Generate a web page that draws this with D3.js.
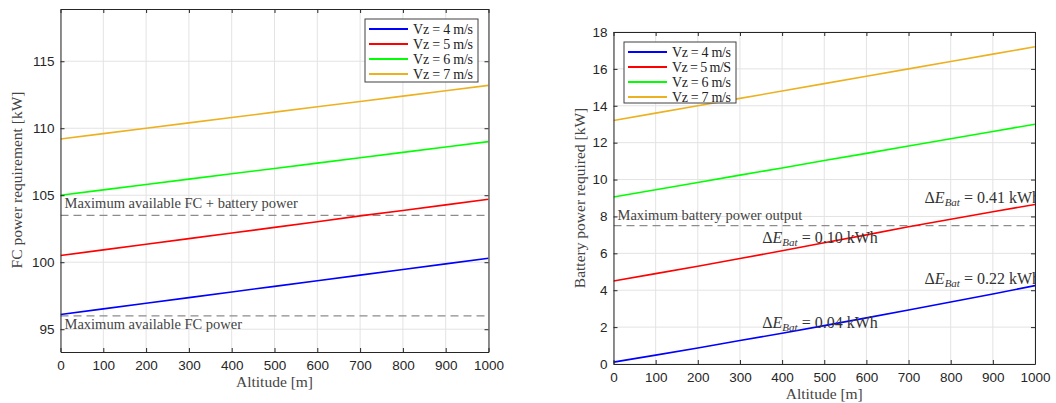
<!DOCTYPE html>
<html><head><meta charset="utf-8">
<script src="https://cdn.jsdelivr.net/npm/d3@7"></script>
<style>
body{margin:0;background:#fff;}
svg{display:block;}
.tick text{font-family:"Liberation Sans",Arial,sans-serif;}
</style></head>
<body>
<svg id="chart" width="1056" height="403"></svg>
<script>
const altitude = [0,100,200,300,400,500,600,700,800,900,1000];
const xTicks = [0,100,200,300,400,500,600,700,800,900,1000];

// Left panel: FC power requirement [kW]
const fcVz4 = [96.1, 96.52, 96.94, 97.36, 97.78, 98.2, 98.62, 99.04, 99.46, 99.88, 100.3];
const fcVz5 = [100.5, 100.92, 101.34, 101.76, 102.18, 102.6, 103.02, 103.46, 103.86, 104.28, 104.7];
const fcVz6 = [105.0, 105.4, 105.8, 106.2, 106.6, 107.0, 107.4, 107.8, 108.2, 108.6, 109.0];
const fcVz7 = [109.2, 109.6, 110.0, 110.4, 110.8, 111.2, 111.6, 112.0, 112.4, 112.8, 113.2];
const fcLegend = ["Vz = 4 m/s","Vz = 5 m/s","Vz = 6 m/s","Vz = 7 m/s"];
const fcYTicks = [95,100,105,110,115];
const fcYDomain = [93.3, 118.9];
const fcLimits = [103.5, 96.0];
const fcLimitLabels = ["Maximum available FC + battery power","Maximum available FC power"];

// Right panel: Battery power required [kW]
const batVz4 = [0.1, 0.48, 0.87, 1.27, 1.67, 2.08, 2.5, 2.93, 3.36, 3.8, 4.25];
const batVz5 = [4.5, 4.9, 5.3, 5.72, 6.14, 6.57, 7.0, 7.44, 7.85, 8.25, 8.65];
const batVz6 = [9.05, 9.45, 9.84, 10.24, 10.63, 11.03, 11.42, 11.82, 12.21, 12.61, 13.0];
const batVz7 = [13.2, 13.6, 14.0, 14.4, 14.8, 15.2, 15.6, 16.0, 16.4, 16.8, 17.2];
const batLegend = ["Vz = 4 m/s","Vz = 5 m/S","Vz = 6 m/s","Vz = 7 m/s"];
const batYTicks = [0,2,4,6,8,10,12,14,16,18];
const batYDomain = [0, 18];
const batLimits = [7.5];
const batLimitLabels = ["Maximum battery power output"];
// energy annotations
const energyNotes = [
  {alt: 353, val: 6.55, e: "0.10"},
  {alt: 738, val: 8.75, e: "0.41"},
  {alt: 353, val: 1.95, e: "0.04"},
  {alt: 738, val: 4.35, e: "0.22"}
];

const colors = ["#0000ff","#ff0000","#00ff00","#edb120"];
const axisColor = "#262626";
const gridColor = "#e3e3e3";
const serif = "'Liberation Serif','Times New Roman',serif";
const svg = d3.select("#chart");

function panel(cfg){
  const x = d3.scaleLinear().domain([0,1000]).range([cfg.left, cfg.right]);
  const y = d3.scaleLinear().domain(cfg.yDomain).range([cfg.bottom, cfg.top]);
  const g = svg.append("g");
  const clipId = "clip" + cfg.id;
  svg.append("clipPath").attr("id", clipId).append("rect")
    .attr("x", cfg.left).attr("y", cfg.top).attr("width", cfg.right-cfg.left).attr("height", cfg.bottom-cfg.top);

  // grid
  g.selectAll(".gx").data(xTicks).join("line")
    .attr("x1", d=>x(d)).attr("x2", d=>x(d)).attr("y1", cfg.top).attr("y2", cfg.bottom)
    .attr("stroke", gridColor).attr("stroke-width", 1);
  g.selectAll(".gy").data(cfg.yTicks).join("line")
    .attr("x1", cfg.left).attr("x2", cfg.right).attr("y1", d=>y(d)).attr("y2", d=>y(d))
    .attr("stroke", gridColor).attr("stroke-width", 1);

  // limit lines
  const pl = g.append("g").attr("clip-path", `url(#${clipId})`);
  pl.selectAll(".lim").data(cfg.limits).join("line")
    .attr("x1", cfg.left).attr("x2", cfg.right).attr("y1", d=>y(d)).attr("y2", d=>y(d))
    .attr("stroke", "#8c8c8c").attr("stroke-width", 1.2).attr("stroke-dasharray", "8,5");

  // series
  const line = d3.line().x((d,i)=>x(altitude[i])).y(d=>y(d));
  pl.selectAll(".series").data(cfg.series).join("path")
    .attr("d", d=>line(d)).attr("fill","none")
    .attr("stroke", (d,i)=>colors[i]).attr("stroke-width", 1.6);

  // limit labels
  cfg.limitLabels.forEach((t,i)=>{
    g.append("text").attr("x", cfg.left+4).attr("y", y(cfg.limits[i]) + cfg.labelDy[i])
      .attr("font-family", serif).attr("font-size", 14.5).attr("fill","#444").text(t);
  });

  // axes
  const fmt = d3.format("d");
  const xb = d3.axisBottom(x).tickValues(xTicks).tickFormat(fmt).tickSizeInner(-4).tickSizeOuter(0).tickPadding(8);
  const xt = d3.axisTop(x).tickValues(xTicks).tickSizeInner(-4).tickSizeOuter(0).tickFormat("");
  const yl = d3.axisLeft(y).tickValues(cfg.yTicks).tickFormat(fmt).tickSizeInner(-4).tickSizeOuter(0).tickPadding(6);
  const yr = d3.axisRight(y).tickValues(cfg.yTicks).tickSizeInner(-4).tickSizeOuter(0).tickFormat("");
  const styleAx = sel => {
    sel.selectAll("path").attr("stroke", axisColor).attr("stroke-width", 1);
    sel.selectAll("line").attr("stroke", axisColor);
    sel.selectAll("text").attr("fill", axisColor).attr("font-size", 13.5);
  };
  g.append("g").attr("transform", `translate(0,${cfg.bottom})`).call(xb).call(styleAx);
  g.append("g").attr("transform", `translate(0,${cfg.top})`).call(xt).call(styleAx);
  g.append("g").attr("transform", `translate(${cfg.left},0)`).call(yl).call(styleAx);
  g.append("g").attr("transform", `translate(${cfg.right},0)`).call(yr).call(styleAx);

  // axis titles
  g.append("text").attr("x", (cfg.left+cfg.right)/2).attr("y", cfg.bottom + 35)
    .attr("text-anchor","middle").attr("font-family", serif).attr("font-size", 15.5).attr("fill","#444")
    .text("Altitude [m]");
  g.append("text").attr("transform", `translate(${cfg.ylabelX},${cfg.ylabelY}) rotate(-90)`)
    .attr("text-anchor","middle").attr("font-family", serif).attr("font-size", 15.5).attr("fill","#444")
    .text(cfg.ylabel);

  // legend
  const lg = g.append("g");
  lg.append("rect").attr("x", cfg.legend.x).attr("y", cfg.legend.y).attr("width", cfg.legend.w).attr("height", cfg.legend.h)
    .attr("fill","#fff").attr("stroke","#404040").attr("stroke-width",1);
  cfg.legendLabels.forEach((t,i)=>{
    const yy = cfg.legend.y + 10 + i*15;
    lg.append("line").attr("x1", cfg.legend.x+4).attr("x2", cfg.legend.x+43).attr("y1", yy).attr("y2", yy)
      .attr("stroke", colors[i]).attr("stroke-width", 1.8);
    lg.append("text").attr("x", cfg.legend.x+48).attr("y", yy+4.5)
      .attr("font-family", serif).attr("font-size", 14).attr("fill","#222")
      .attr("textLength", cfg.legend.w - 53).attr("lengthAdjust", "spacing")
      .text(t);
  });
  return {x, y, g, clipId};
}

panel({
  id: "L", left: 60.5, right: 488.5, top: 9, bottom: 352,
  yDomain: fcYDomain, yTicks: fcYTicks,
  series: [fcVz4, fcVz5, fcVz6, fcVz7],
  limits: fcLimits, limitLabels: fcLimitLabels, labelDy: [-7, 13],
  ylabel: "FC power requirement [kW]", ylabelX: 22, ylabelY: 180,
  legend: {x: 365, y: 19, w: 113, h: 63}, legendLabels: fcLegend
});

const R = panel({
  id: "R", left: 613.5, right: 1035, top: 32, bottom: 364,
  yDomain: batYDomain, yTicks: batYTicks,
  series: [batVz4, batVz5, batVz6, batVz7],
  limits: batLimits, limitLabels: batLimitLabels, labelDy: [-6],
  ylabel: "Battery power required [kW]", ylabelX: 585, ylabelY: 198,
  legend: {x: 624, y: 42, w: 112, h: 61}, legendLabels: batLegend
});

// energy annotations
const notes = R.g.append("g").attr("clip-path", `url(#${R.clipId})`);
energyNotes.forEach(n=>{
  const t = notes.append("text").attr("x", R.x(n.alt)).attr("y", R.y(n.val))
    .attr("font-family", serif).attr("font-size", 16).attr("fill","#333");
  t.append("tspan").text("Δ");
  t.append("tspan").attr("font-style","italic").text("E");
  t.append("tspan").attr("font-style","italic").attr("font-size", 11).attr("dy", 3).text("Bat");
  t.append("tspan").attr("dy", -3).text(" = " + n.e + " kWh");
});
</script>
</body></html>
